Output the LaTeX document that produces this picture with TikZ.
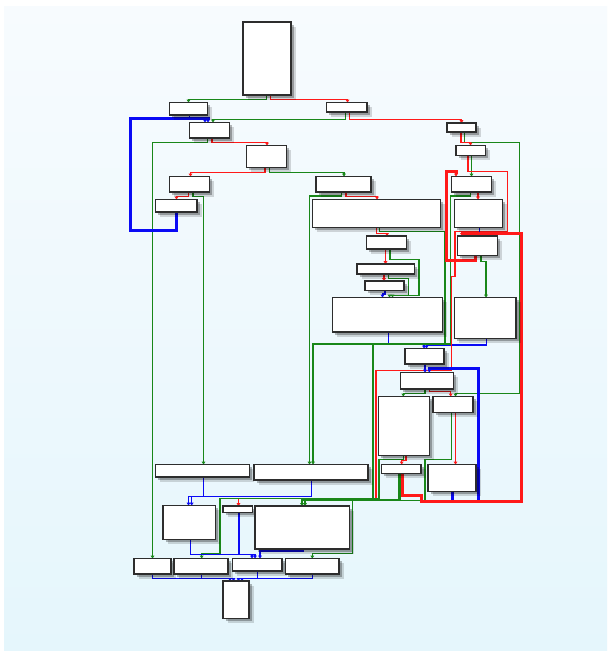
\documentclass[tikz,border=0pt]{standalone}
\usepackage{xcolor}
\usepackage{tikz}
\usetikzlibrary{arrows.meta, shadows, backgrounds}
\definecolor{bgtop}{RGB}{247,251,254}
\definecolor{bgbot}{RGB}{229,246,252}
\definecolor{boxline}{RGB}{45,45,45}
\definecolor{grn}{RGB}{25,135,25}
\definecolor{rd}{RGB}{255,25,25}
\definecolor{bl}{RGB}{10,10,245}
\tikzset{
  blk/.style={rectangle, draw=boxline, fill=white, line width=1.5pt, inner sep=0pt, outer sep=0pt,
              anchor=north west,
              drop shadow={shadow xshift=4.5pt, shadow yshift=-4.5pt, fill=black, opacity=.15},
              drop shadow={shadow xshift=2.8pt, shadow yshift=-2.8pt, fill=black, opacity=.28}},
  edge/.style={line width=1.4pt, -{Triangle[length=2.8pt,width=3.6pt]}},
  tru/.style={edge, draw=grn, color=grn},
  fls/.style={edge, draw=rd, color=rd},
  jmp/.style={edge, draw=bl, color=bl},
  hot/.style={line width=3pt},
}

\begin{document}
\begin{tikzpicture}[x=1pt, y=-1pt]
\useasboundingbox (0,0) rectangle (612,651);

% Bloki
\node[blk, minimum width=48,  minimum height=73]   (b1)  at (243,22) {};
\node[blk, minimum width=38,  minimum height=12.5] (b2)  at (169.5,102.5) {};
\node[blk, minimum width=40.5,minimum height=9.5]  (b3)  at (326.5,102.5) {};
\node[blk, minimum width=40,  minimum height=15.5] (b4)  at (189.5,122.5) {};
\node[blk, minimum width=29,  minimum height=9]    (b5)  at (447,123) {};
\node[blk, minimum width=40,  minimum height=22]   (b6)  at (246.5,145.5) {};
\node[blk, minimum width=29.5,minimum height=10]   (b7)  at (456,145.5) {};
\node[blk, minimum width=40,  minimum height=15.5] (b8)  at (169.5,176.5) {};
\node[blk, minimum width=55,  minimum height=15.5] (b9)  at (316,176.5) {};
\node[blk, minimum width=40,  minimum height=15.5] (b10) at (451.5,176.5) {};
\node[blk, minimum width=41.5,minimum height=12.5] (b11) at (155.5,199.5) {};
\node[blk, minimum width=128, minimum height=28]   (b12) at (312.5,199.5) {};
\node[blk, minimum width=48,  minimum height=28]   (b13) at (454.5,199.5) {};
\node[blk, minimum width=40,  minimum height=13]   (b14) at (366.5,236) {};
\node[blk, minimum width=40,  minimum height=19.5] (b15) at (457.5,236) {};
\node[blk, minimum width=57.5,minimum height=10]   (b16) at (357,264) {};
\node[blk, minimum width=39,  minimum height=9.5]  (b17) at (365,281) {};
\node[blk, minimum width=110, minimum height=34.5] (b18) at (332.5,297.5) {};
\node[blk, minimum width=61.5,minimum height=41]   (b19) at (454.5,297.5) {};
\node[blk, minimum width=39,  minimum height=15.5] (b20) at (405,348.5) {};
\node[blk, minimum width=53,  minimum height=16.5] (b21) at (400.5,372.5) {};
\node[blk, minimum width=51,  minimum height=59]   (b22) at (378.5,396.5) {};
\node[blk, minimum width=40,  minimum height=16]   (b23) at (433,396.5) {};
\node[blk, minimum width=94,  minimum height=12.5] (b24) at (155.5,464.5) {};
\node[blk, minimum width=114, minimum height=15.5] (b25) at (254,464.5) {};
\node[blk, minimum width=39.5,minimum height=9]    (b26) at (381.5,464.5) {};
\node[blk, minimum width=48,  minimum height=27]   (b27) at (428,464.5) {};
\node[blk, minimum width=52.5,minimum height=34]   (b28) at (163,505.5) {};
\node[blk, minimum width=29.5,minimum height=6.5]  (b29) at (223,506) {};
\node[blk, minimum width=94.5,minimum height=43]   (b30) at (255,506) {};
\node[blk, minimum width=37,  minimum height=15.5] (b31) at (134,558.5) {};
\node[blk, minimum width=54,  minimum height=15.5] (b32) at (174,558.5) {};
\node[blk, minimum width=49.5,minimum height=12.5] (b33) at (232.5,558.5) {};
\node[blk, minimum width=53.5,minimum height=15.5] (b34) at (285.5,558.5) {};
\node[blk, minimum width=26,  minimum height=37.5] (b35) at (223,581) {};

\begin{scope}[on background layer]
\fill[white] (0,0) rectangle (612,651);
\shade[top color=bgtop, bottom color=bgbot] (4,6) rectangle (607,651);

% Gora
\draw[tru] (b1.south -| 266.5,0) |- (188.5,99.3) -- (b2.north -| 188.5,0);
\draw[fls] (b1.south -| 270.5,0) |- (347.5,99.3) -- (b3.north -| 347.5,0);
\draw[jmp] (b2.south -| 189.5,0) |- (205,118.7) -- (b4.north -| 205,0);
\draw[tru] (b3.south -| 345.5,0) |- (213,119.3) -- (b4.north -| 213,0);
\draw[fls] (b3.south -| 349.5,0) |- (461.5,119.3) -- (b5.north -| 461.5,0);
\draw[tru] (b4.south -| 207.5,0) |- (152.5,142.7) -- (b31.north -| 152.5,0);
\draw[fls] (b4.south -| 212,0) |- (267,142.7) -- (b6.north -| 267,0);
\draw[fls] (b6.south -| 265,0) |- (190.5,172.3) -- (b8.north -| 190.5,0);
\draw[tru] (b6.south -| 269.5,0) |- (344,172.3) -- (b9.north -| 344,0);
\draw[fls] (b8.south -| 188.5,0) |- (176.5,196.7) -- (b11.north -| 176.5,0);
\draw[tru] (b8.south -| 193,0) |- (203.5,196.7) -- (b24.north -| 203.5,0);

% Srodek
\draw[tru] (b9.south -| 341.5,0) |- (309.5,196) -- (b25.north -| 309.5,0);
\draw[fls] (b9.south -| 346,0) |- (377,196.3) -- (b12.north -| 377,0);
\draw[fls] (b12.south -| 376.5,0) |- (387,233.3) -- (b14.north -| 387,0);
\draw[tru] (b12.south -| 379.5,0) |- (445,231.5) |- (313,344) -- (b25.north -| 313,0);
\draw[fls] (b14.south -| 385.5,0) -- (b16.north -| 385.5,0);
\draw[tru] (b14.south -| 390,0) |- (419,259.3) |- (392.5,295.3) -- (b18.north -| 392.5,0);
\draw[fls] (b16.south -| 384,0) -- (b17.north -| 384,0);
\draw[tru] (b16.south -| 388.5,0) |- (408.5,278.3) |- (389.5,295.3) -- (b18.north -| 389.5,0);
\draw[jmp] (b17.south -| 385,0) |- (382.5,294) -- (b18.north -| 382.5,0);
\draw[jmp] (b18.south -| 388.5,0) |- (424,343.3) -- (b20.north -| 424,0);
\draw[jmp] (b19.south -| 486.5,0) |- (426.5,345) -- (b20.north -| 426.5,0);

% Prawa kolumna
\draw[tru] (b5.south -| 464.5,0) |- (519.5,142.3) |- (455.5,393.3) -- (b23.north -| 455.5,0);
\draw[fls] (b5.south -| 461,0) |- (470.5,142.3) -- (b7.north -| 470.5,0);
\draw[tru] (b7.south -| 471.5,0) -- (b10.north -| 471.5,0);
\draw[fls] (b7.south -| 468,0) |- (507.3,171.7) |- (455,231.7) |- (451.7,276.7) |- (376,370.7) |- (238.5,498.3) -- (b29.north -| 238.5,0);
\draw[fls] (b10.south -| 478,0) -- (b13.north -| 478,0);
\draw[tru] (b10.south -| 470.5,0) |- (450.7,196) |- (372.8,344) |- (305,498.3) -- (b30.north -| 305,0);
\draw[jmp] (b13.south -| 479.5,0) |- (475,232.7) -- (b15.north -| 475,0);
\draw[tru] (b15.south -| 481,0) |- (486,261.7) -- (b19.north -| 486,0);
\draw[jmp] (b20.south -| 425,0) -- (b21.north -| 425,0);
\draw[tru] (b21.south -| 425,0) |- (403.3,393.3) -- (b22.north -| 403.3,0);
\draw[fls] (b21.south -| 429.3,0) |- (450.7,391.7) -- (b23.north -| 450.7,0);
\draw[fls] (b22.south -| 406,0) |- (401.7,460.7) -- (b26.north -| 401.7,0);
\draw[tru] (b22.south -| 403.3,0) |- (379,459.3) |- (220,498.3) |- (201.7,553.3) -- (b32.north -| 201.7,0);
\draw[fls] (b23.south -| 455.5,0) -- (b27.north -| 455.5,0);
\draw[tru] (b23.south -| 451.7,0) |- (425,459.3) |- (352.3,500.7) |- (312.3,553.3) -- (b34.north -| 312.3,0);

% Dol
\draw[jmp] (b24.south -| 203.5,0) |- (188.5,496.7) -- (b28.north -| 188.5,0);
\draw[jmp] (b25.south -| 311.7,0) |- (191.7,496.7) -- (b28.north -| 191.7,0);
\draw[jmp] (b28.south -| 190.7,0) |- (252,554.3) -- (b33.north -| 252,0);
\draw[jmp] (b29.south -| 239,0) |- (255,554.3) -- (b33.north -| 255,0);
\draw[jmp] (b30.south -| 303.3,0) |- (260,551) -- (b33.north -| 260,0);
\draw[jmp] (b31.south -| 152.3,0) |- (230,578.3) -- (b35.north -| 230,0);
\draw[jmp] (b32.south -| 201.7,0) |- (233.5,578.3) -- (b35.north -| 233.5,0);
\draw[jmp] (b33.south -| 257.3,0) |- (238.5,578.3) -- (b35.north -| 238.5,0);
\draw[jmp] (b34.south -| 312.7,0) |- (242,578.3) -- (b35.north -| 242,0);

% Petle (wyroznione)
\draw[tru, line width=2.2pt] (b26.south -| 399.5,0) |- (302,500) -- (b30.north -| 302,0);
\draw[jmp,hot] (b11.south -| 176.5,0) |- (130.5,230) |- (208,118.7) -- (b4.north -| 208,0);
\draw[jmp,hot] (b27.south -| 452.3,0) |- (478.3,501.7) |- (429.3,368.3) -- (b21.north -| 429.3,0);
\draw[fls,hot] (b15.south -| 475,0) |- (446.7,260.7) |- (456,171.2) -- (b10.north -| 456,0);
\draw[fls,hot] (b26.south -| 402.3,0) |- (421,495) |- (521.7,501.7) |- (462,233.3) -- (b15.north -| 462,0);
\end{scope}

\end{tikzpicture}
\end{document}
